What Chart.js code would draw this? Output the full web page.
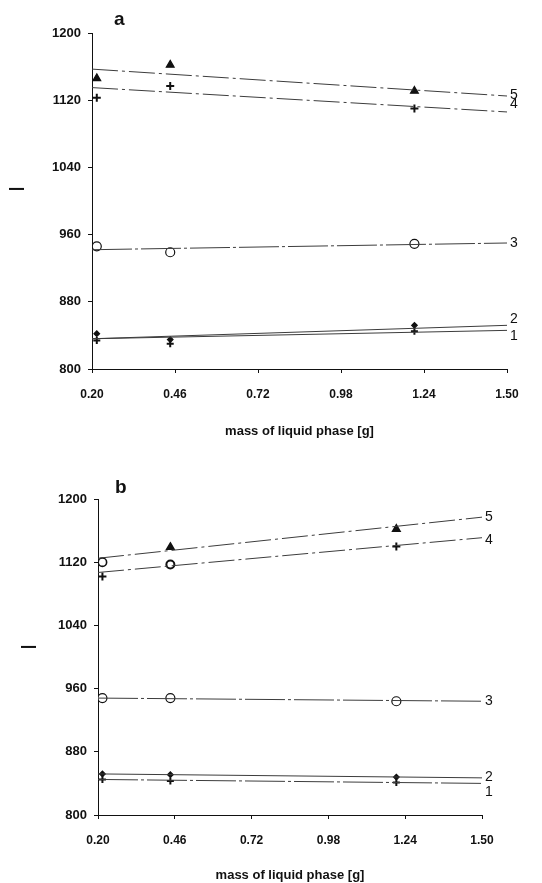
<!DOCTYPE html>
<html>
<head>
<meta charset="utf-8">
<script src="https://cdn.jsdelivr.net/npm/chart.js@4/dist/chart.umd.min.js"></script>
<style>
  html, body { margin: 0; padding: 0; background: #fff; }
  .wrap { position: relative; width: 542px; height: 883px; }
  #chartA { position: absolute; left: 0; top: 0; }
  #chartB { position: absolute; left: 0; top: 445px; }
</style>
</head>
<body>
<div class="wrap">
  <canvas id="chartA" width="542" height="445"></canvas>
  <canvas id="chartB" width="542" height="438"></canvas>
</div>
<script>
// --- DATA ---
const xTicks = [0.20, 0.46, 0.72, 0.98, 1.24, 1.50];
const massPoints = [0.215, 0.445, 1.21];   // measured liquid phase masses
const fitEnds = [0.20, 1.50];               // regression lines span the axis
const seriesNames = ['1', '2', '3', '4', '5'];

// panel a
const aPts1 = [834, 830, 845];
const aPts2 = [842, 835, 852];
const aPts3 = [946, 939, 949];
const aPts4 = [1123, 1137, 1110];
const aPts5 = [1146, 1162, 1131];
const aFit1 = [836, 846];
const aFit2 = [836, 852];
const aFit3 = [942, 950];
const aFit4 = [1135, 1106];
const aFit5 = [1157, 1125];

// panel b
const bPts1 = [845, 843, 841];
const bPts2 = [852, 851, 848];
const bPts3 = [948, 948, 944];
const bPts4 = [1102, 1117, 1140];
const bPts5 = [1120, 1139, 1162];
const bFit1 = [845, 840];
const bFit2 = [852, 847];
const bFit3 = [948, 944];
const bFit4 = [1107, 1151];
const bFit5 = [1125, 1177];

// --- STYLE ---
const FONT = "'Liberation Sans', Arial, sans-serif";
const INK = '#111';
const LINE = '#3c3c3c';

const toXY = (xs, ys) => xs.map((x, i) => ({ x: x, y: ys[i] }));

function pointSet(xs, ys, style, radius, fill, width) {
    return {
        type: 'scatter',
        data: toXY(xs, ys),
        showLine: false,
        pointStyle: style,
        pointRadius: radius,
        pointBorderColor: INK,
        pointBackgroundColor: fill,
        pointBorderWidth: width || 1.2
    };
}

function fitSet(ys, name, dash) {
    return {
        type: 'line',
        label: name,
        data: toXY(fitEnds, ys),
        borderColor: LINE,
        borderWidth: 1,
        borderDash: dash || [],
        pointRadius: 0,
        fill: false,
        isFit: true
    };
}

// text that sits around the plot: panel letter, y title "I", curve numbers
const sideText = {
    id: 'sideText',
    afterDraw(chart, args, opts) {
        const { ctx, scales: { x, y } } = chart;
        ctx.save();
        ctx.fillStyle = INK;

        ctx.font = 'bold 19px ' + FONT;
        ctx.textAlign = 'left';
        ctx.textBaseline = 'alphabetic';
        ctx.fillText(opts.letter, opts.letterAt[0], opts.letterAt[1]);

        ctx.save();
        ctx.translate(opts.iAt[0], opts.iAt[1]);
        ctx.rotate(-Math.PI / 2);
        ctx.font = '22px ' + FONT;
        ctx.textAlign = 'center';
        ctx.textBaseline = 'middle';
        ctx.fillText('I', 0, 0);
        ctx.restore();

        ctx.font = '14px ' + FONT;
        ctx.textAlign = 'left';
        ctx.textBaseline = 'middle';
        chart.data.datasets.forEach(ds => {
            if (!ds.isFit) return;
            const last = ds.data[ds.data.length - 1];
            const idx = seriesNames.indexOf(ds.label);
            const px = x.getPixelForValue(last.x) + opts.gap;
            const py = y.getPixelForValue(last.y) + opts.nudge[idx];
            ctx.fillText(ds.label, px, py);
        });
        ctx.restore();
    }
};

function makeChart(id, datasets, box, textOpts) {
    return new Chart(document.getElementById(id), {
        data: { datasets: datasets },
        options: {
            responsive: false,
            animation: false,
            events: [],
            layout: { padding: { top: box.top, right: box.right, bottom: 0, left: 0 } },
            plugins: {
                legend: { display: false },
                tooltip: { enabled: false },
                sideText: textOpts
            },
            scales: {
                x: {
                    type: 'linear',
                    min: 0.2,
                    max: 1.5,
                    afterBuildTicks: s => { s.ticks = xTicks.map(v => ({ value: v })); },
                    afterFit: s => { s.height = box.xHeight; },
                    border: { display: true, color: INK, width: 1 },
                    grid: { drawOnChartArea: false, color: INK, tickLength: 4 },
                    ticks: {
                        color: INK,
                        padding: box.xPad,
                        maxRotation: 0,
                        font: { family: FONT, size: 12, weight: 'bold' },
                        callback: v => Number(v).toFixed(2)
                    },
                    title: {
                        display: true,
                        text: 'mass of liquid phase [g]',
                        color: INK,
                        padding: { top: 0, bottom: box.titlePad },
                        font: { family: FONT, size: 13, weight: 'bold' }
                    }
                },
                y: {
                    type: 'linear',
                    min: 800,
                    max: 1200,
                    afterFit: s => { s.width = box.left; },
                    border: { display: true, color: INK, width: 1 },
                    grid: { drawOnChartArea: false, color: INK, tickLength: 4 },
                    ticks: {
                        stepSize: 80,
                        color: INK,
                        padding: 7,
                        font: { family: FONT, size: 13, weight: 'bold' },
                        callback: v => String(v)
                    }
                }
            }
        },
        plugins: [sideText]
    });
}

const dashA = [26, 4, 3, 4];
const dashB = [40, 3, 3, 3];

makeChart('chartA', [
    fitSet(aFit1, '1'),
    fitSet(aFit2, '2'),
    fitSet(aFit3, '3', dashB),
    fitSet(aFit4, '4', dashA),
    fitSet(aFit5, '5', dashA),
    pointSet(massPoints, aPts1, 'cross', 3.5, INK, 2),
    pointSet(massPoints, aPts2, 'rectRot', 2.8, INK),
    pointSet(massPoints, aPts3, 'circle', 4.5, '#fff', 1.2),
    pointSet(massPoints, aPts4, 'cross', 4, INK, 2),
    pointSet(massPoints, aPts5, 'triangle', 4.5, INK)
], { left: 92, top: 33, right: 35, xHeight: 76, xPad: 14, titlePad: 6 },
   { letter: 'a', letterAt: [114, 25], iAt: [18, 189], gap: 3, nudge: [6, -6, 0, -8, -1] });

makeChart('chartB', [
    fitSet(bFit1, '1', dashB),
    fitSet(bFit2, '2'),
    fitSet(bFit3, '3', dashB),
    fitSet(bFit4, '4', dashA),
    fitSet(bFit5, '5', dashA),
    pointSet(massPoints, bPts1, 'cross', 3.5, INK, 2),
    pointSet(massPoints, bPts2, 'rectRot', 2.8, INK),
    pointSet(massPoints, bPts3, 'circle', 4.5, '#fff', 1.2),
    pointSet(massPoints, bPts4, ['cross', 'circle', 'cross'], 4, '#fff', 2),
    pointSet(massPoints, bPts5, ['circle', 'triangle', 'triangle'], 4.2, ['#fff', INK, INK], 1.6)
], { left: 98, top: 54, right: 60, xHeight: 68, xPad: 14, titlePad: 0 },
   { letter: 'b', letterAt: [115, 48], iAt: [30, 202], gap: 3, nudge: [9, -1, 0, 2, 0] });
</script>
</body>
</html>
